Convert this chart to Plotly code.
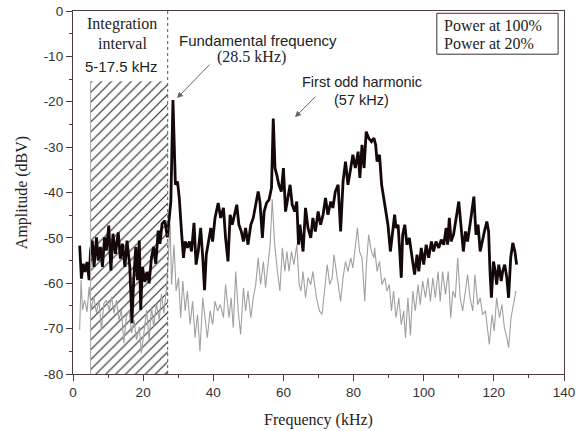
import plotly.graph_objects as go

# ---- data ----
f100 = [1.9, 2.4, 2.9, 3.4, 4.0, 4.6, 5.0, 5.5, 6.0, 6.7, 7.2, 7.8, 8.4, 9.0, 9.5, 10.2, 10.8, 11.4, 12.1, 12.9,
        13.5, 14.1, 14.8, 15.4, 16.2, 16.8, 17.3, 17.9, 18.4, 18.9, 19.3, 19.8, 20.5, 21.1, 21.7, 22.4, 23.0, 23.6,
        24.3, 24.8, 25.4, 26.2, 26.9, 27.4, 27.9, 28.5, 29.2, 29.8, 30.3, 31.0, 31.5, 32.0, 32.6, 33.2, 33.8, 34.5,
        35.1, 35.7, 36.4, 37.0, 37.5, 38.0, 38.6, 39.3, 39.8, 40.5, 41.4, 42.1, 42.9, 43.5, 44.2, 44.8, 45.4, 46.1,
        46.7, 47.3, 48.0, 48.6, 49.2, 49.9, 50.7, 51.4, 52.1, 52.8, 53.3, 54.0, 54.5, 55.2, 55.9, 56.6, 57.1, 57.6,
        58.1, 58.7, 59.4, 60.0, 60.6, 61.3, 61.9, 62.5, 63.2, 63.8, 64.3, 64.7, 65.6, 66.3, 67.0, 67.8, 68.4, 69.1,
        69.9, 70.6, 71.3, 72.0, 72.7, 73.5, 74.1, 74.8, 75.6, 76.3, 77.0, 77.7, 78.4, 79.2, 79.8, 80.5, 81.3, 81.8,
        82.4, 83.0, 83.6, 84.3, 85.1, 85.8, 86.3, 86.7, 87.4, 88.0, 88.6, 89.3, 89.8, 90.5, 91.2, 91.7, 92.1, 92.7,
        93.1, 93.6, 94.0, 94.6, 95.2, 95.9, 96.7, 97.4, 98.1, 98.6, 99.3, 100.0, 100.7, 101.4, 102.2, 102.8, 103.5,
        104.3, 105.0, 105.7, 106.4, 106.8, 107.3, 107.8, 108.5, 109.2, 110.0, 110.6, 111.3, 111.9, 112.5, 113.2,
        113.8, 114.3, 114.9, 115.5, 116.1, 116.6, 117.3, 118.0, 118.5, 118.9, 119.3, 119.9, 120.4, 120.8, 121.4,
        122.1, 122.5, 123.1, 123.7, 124.2, 124.8, 125.4, 126.0, 126.5]
a100 = [-51.7, -59, -55.7, -57.5, -55.3, -59.3, -52.8, -50.6, -56.4, -49.9, -55, -52, -56.4, -49.9, -52.8, -47.3,
        -57.2, -49.1, -53.5, -48.8, -54.6, -51.3, -56.4, -50.6, -56.4, -68.8, -59.3, -52, -59.3, -50.6, -65.9,
        -56.4, -59.7, -57.5, -60, -54.2, -52, -55.7, -48.4, -51.3, -46.9, -46.2, -49.9, -46.2, -42, -19.6, -38.3,
        -37.6, -41.2, -49.3, -54.4, -50.8, -52.2, -50.8, -53, -46.7, -55.9, -53, -47.8, -54.4, -61.5, -53.7, -50.8,
        -47.8, -50.8, -45.6, -42.3, -45.6, -43.4, -50, -55.2, -44.9, -47.1, -44.9, -42.7, -47.1, -48.6, -50.8,
        -47.8, -51.5, -47.1, -45.6, -42.7, -39.8, -42, -50, -44.2, -42.3, -41.6, -39, -23.7, -34.6, -36.1, -38.3,
        -39.8, -34.6, -44.2, -41.2, -38.3, -42.7, -44.2, -42, -51.5, -47.1, -53, -43.4, -47.8, -50, -45.6, -48.6,
        -44.2, -47.1, -44.9, -41.2, -44.9, -42, -43.4, -39.8, -38.3, -48.6, -37.6, -33.2, -38.3, -34.6, -31.7,
        -34.6, -31, -36.8, -29.5, -34.6, -26.6, -28, -28.8, -28, -29.5, -33.2, -31.7, -38.3, -41.2, -44.2, -47.1,
        -53, -48.6, -44.9, -47.8, -47.1, -52.2, -58.8, -49.3, -47.1, -51.5, -50, -54.4, -58.1, -53.7, -57.4, -52.2,
        -55.9, -51.5, -54.4, -50.8, -53, -50.8, -52.2, -50.4, -51.5, -47.8, -51.5, -45.6, -50.8, -49.3, -45.6, -42,
        -47.1, -53, -48.6, -50.8, -47.1, -44.2, -40.9, -49.3, -47.1, -53, -50.8, -48.6, -46.4, -48.6, -57.4, -63.2,
        -55.2, -57.4, -60.3, -55.9, -59.5, -57.4, -55.9, -58.8, -63.2, -54.4, -51.1, -53, -55.9]

f20 = [1.9, 2.3, 2.7, 3.3, 4.0, 4.6, 5.2, 5.9, 6.7, 7.4, 8.1, 8.8, 9.5, 10.3, 11.0, 11.7, 12.4, 13.1, 13.8, 14.5,
       15.2, 16.0, 16.7, 17.4, 18.1, 18.9, 19.5, 20.2, 21.0, 21.7, 22.4, 23.0, 23.8, 24.6, 25.2, 25.9, 26.7, 27.7,
       28.1, 28.8, 29.4, 30.1, 30.7, 31.3, 32.0, 32.6, 33.4, 34.1, 34.8, 35.5, 36.2, 37.0, 37.6, 38.3, 39.1, 39.8,
       40.5, 41.2, 42.0, 42.9, 43.5, 44.5, 45.1, 45.7, 46.4, 47.1, 47.8, 48.6, 49.2, 49.9, 50.7, 51.4, 52.1, 52.8,
       53.5, 54.3, 54.9, 55.6, 56.2, 56.8, 57.5, 58.3, 59.0, 59.7, 60.4, 61.0, 61.6, 62.3, 63.0, 63.8, 64.5, 65.0,
       65.6, 66.3, 67.0, 67.8, 68.4, 69.4, 70.3, 71.0, 71.8, 72.5, 73.2, 73.9, 74.4, 75.1, 75.8, 76.3, 77.0, 77.7,
       78.4, 79.2, 79.8, 80.5, 81.1, 81.7, 82.4, 83.2, 83.6, 84.3, 85.1, 85.8, 86.0, 86.7, 87.4, 88.1, 88.9, 89.5,
       90.2, 90.8, 91.4, 92.1, 92.9, 93.6, 94.3, 94.8, 95.5, 96.2, 96.9, 97.6, 98.4, 99.0, 99.7, 100.5, 101.2,
       101.9, 102.6, 103.3, 104.1, 104.7, 105.4, 106.2, 107.0, 107.7, 108.3, 109.0, 109.7, 110.4, 111.1, 111.9,
       112.5, 113.2, 114.0, 114.6, 115.4, 116.1, 116.8, 117.6, 118.2, 118.7, 119.5, 120.1, 120.8, 121.6, 122.3,
       123.0, 123.7, 124.2, 124.9, 125.6, 126.3]
a20 = [-70.3, -59.3, -65.9, -63.7, -66.3, -60.8, -65.9, -63, -66.6, -63.7, -70.3, -64.5, -63.7, -65.9, -63, -66.6,
       -63.7, -68.1, -65.9, -73.2, -67.4, -65.9, -71, -68.1, -72.5, -69.6, -75.4, -71, -65.9, -72.5, -65.2, -69.6,
       -64.5, -68.1, -62.3, -66.6, -60.8, -47, -60.3, -51.5, -61.7, -58.8, -67.6, -59.5, -66.1, -61.7, -69.1, -64,
       -72, -66.9, -75, -63.2, -67.6, -72, -66.1, -69.1, -64, -66.1, -64.7, -67.6, -60.3, -67.6, -63.2, -69.8,
       -57.4, -66.1, -71.3, -61, -66.1, -61.7, -67.6, -63.2, -60.3, -54.4, -60.3, -55.2, -61, -55.2, -51.5, -41.5,
       -51.5, -57.4, -61.7, -52.2, -57.4, -53, -57.4, -53, -55.9, -51.5, -60.3, -61.7, -57.4, -63.2, -58.8, -60.3,
       -57.4, -63.2, -66.1, -66.9, -60.3, -55.9, -60.3, -58.8, -53.7, -57.4, -60.3, -64, -58.8, -55.2, -57.4, -54.4,
       -56.6, -51.5, -47.8, -53, -54.4, -64, -56.6, -49.3, -53, -54.4, -52.2, -57.4, -55.2, -60.3, -58.8, -61.7,
       -60.3, -66.1, -61.7, -67.6, -63.2, -69.1, -66.1, -72, -63.2, -71.5, -61.7, -66.1, -60.3, -64.7, -59.5, -63.2,
       -58.8, -64, -58.8, -63.2, -57.4, -64, -57.4, -62.5, -57.4, -67.6, -61.7, -63.2, -54.4, -63.2, -66.1, -61.7,
       -58.1, -63.2, -66.1, -58.1, -64.7, -63.2, -66.9, -66.1, -70.5, -73.5, -66.9, -70.5, -63.2, -67.6, -64.7,
       -69.8, -72, -74.2, -67.6, -64.7, -61.7]

interval_x = [5, 27]
interval_top = -15.5
x_range = [0, 140]
y_range = [-80, 0]
x_tickvals = [0, 20, 40, 60, 80, 100, 120, 140]
x_ticktext = ["0", "20", "40", "60", "80", "100", "120", "140"]
y_tickvals = [0, -10, -20, -30, -40, -50, -60, -70, -80]
y_ticktext = ["0", "-10", "-20", "-30", "-40", "-50", "-60", "-70", "-80"]

SERIF = "Liberation Serif, Times New Roman, serif"
SANS = "Liberation Sans, Arial, sans-serif"
AXC = "#4d3a3e"

fig = go.Figure()

# hatched integration interval
hx = [interval_x[0], interval_x[0], interval_x[1], interval_x[1], interval_x[0]]
hy = [y_range[0], interval_top, interval_top, y_range[0], y_range[0]]
fig.add_trace(go.Scatter(
    x=hx, y=hy, mode="none", fill="toself", fillcolor="rgba(0,0,0,0)",
    fillpattern=dict(shape="/", fgcolor="#2a2a2a", bgcolor="white", size=7, solidity=0.17),
    hoverinfo="skip", showlegend=False))

fig.add_trace(go.Scatter(x=f20, y=a20, mode="lines", line=dict(color="#a0a0a0", width=1.1),
                         name="Power at 20%", showlegend=False))
fig.add_trace(go.Scatter(x=f100, y=a100, mode="lines", line=dict(color="#140808", width=2.8),
                         name="Power at 100%", showlegend=False))

shapes = [
    dict(type="line", xref="x", yref="y", x0=interval_x[1], x1=interval_x[1], y0=y_range[0], y1=y_range[1],
         line=dict(color="#555", width=1, dash="dot")),
    dict(type="line", xref="x", yref="y", x0=interval_x[0], x1=interval_x[0], y0=y_range[0], y1=interval_top,
         line=dict(color="#aaa", width=1)),
    dict(type="rect", xref="paper", yref="paper", x0=0.741, x1=0.988, y0=0.881, y1=0.9937,
         line=dict(color="#333", width=1), fillcolor="white"),
]

ann = []
def txt(x, y, s, font, size, xref="x", yref="y", xanchor="center"):
    ann.append(dict(x=x, y=y, xref=xref, yref=yref, text=s, showarrow=False, xanchor=xanchor, yanchor="middle",
                    font=dict(family=font, size=size, color="#222")))

txt(14.0, -2.8, "Integration", SERIF, 16)
txt(14.0, -7.1, "interval", SERIF, 16)
txt(13.8, -12.3, "5-17.5 kHz", SANS, 15)
txt(52.8, -6.4, "Fundamental frequency", SANS, 15)
txt(50.8, -10.2, "(28.5 kHz)", SERIF, 16)
txt(82.4, -15.7, "First odd harmonic", SANS, 14.5)
txt(82.4, -19.6, "(57 kHz)", SANS, 14.5)
txt(0.7515, 0.9606, "Power at 100%", SERIF, 16, xref="paper", yref="paper", xanchor="left")
txt(0.7515, 0.911, "Power at 20%", SERIF, 16, xref="paper", yref="paper", xanchor="left")

# arrows
ann.append(dict(x=29.65, y=-19.2, xref="x", yref="y", ax=34, ay=-35, showarrow=True, arrowhead=2,
                arrowsize=1.2, arrowwidth=1, arrowcolor="#666", text=""))
ann.append(dict(x=63.3, y=-23.4, xref="x", yref="y", ax=22, ay=-22, showarrow=True, arrowhead=2,
                arrowsize=1.2, arrowwidth=1, arrowcolor="#666", text=""))

fig.update_layout(
    template="none",
    width=584, height=431,
    margin=dict(l=73, r=20, t=11, b=57, autoexpand=False),
    paper_bgcolor="white", plot_bgcolor="white",
    shapes=shapes, annotations=ann, showlegend=False,
    xaxis=dict(range=x_range, tickvals=x_tickvals, ticktext=x_ticktext, showgrid=False, zeroline=False,
               automargin=False,
               showline=True, linecolor=AXC, linewidth=1.3, mirror=True,
               ticks="outside", ticklen=6, tickcolor=AXC, tickwidth=1.2,
               minor=dict(dtick=10, ticks="outside", ticklen=3, tickcolor=AXC, showgrid=False),
               tickfont=dict(family=SANS, size=13.5, color="#333"),
               title=dict(text="Frequency (kHz)", font=dict(family=SERIF, size=16, color="#222"), standoff=14)),
    yaxis=dict(range=y_range, tickvals=y_tickvals, ticktext=y_ticktext, showgrid=False, zeroline=False,
               automargin=False,
               showline=True, linecolor=AXC, linewidth=1.3, mirror=True,
               ticks="outside", ticklen=6, tickcolor=AXC, tickwidth=1.2,
               minor=dict(dtick=5, ticks="outside", ticklen=3, tickcolor=AXC, showgrid=False),
               tickfont=dict(family=SANS, size=13.5, color="#333"),
               title=dict(text="Amplitude (dBV)", font=dict(family=SERIF, size=16, color="#222"), standoff=12)),
)

fig.write_html("out.html", config={"displayModeBar": False},
               post_script="document.body.style.margin='0';document.body.style.overflow='hidden';")
